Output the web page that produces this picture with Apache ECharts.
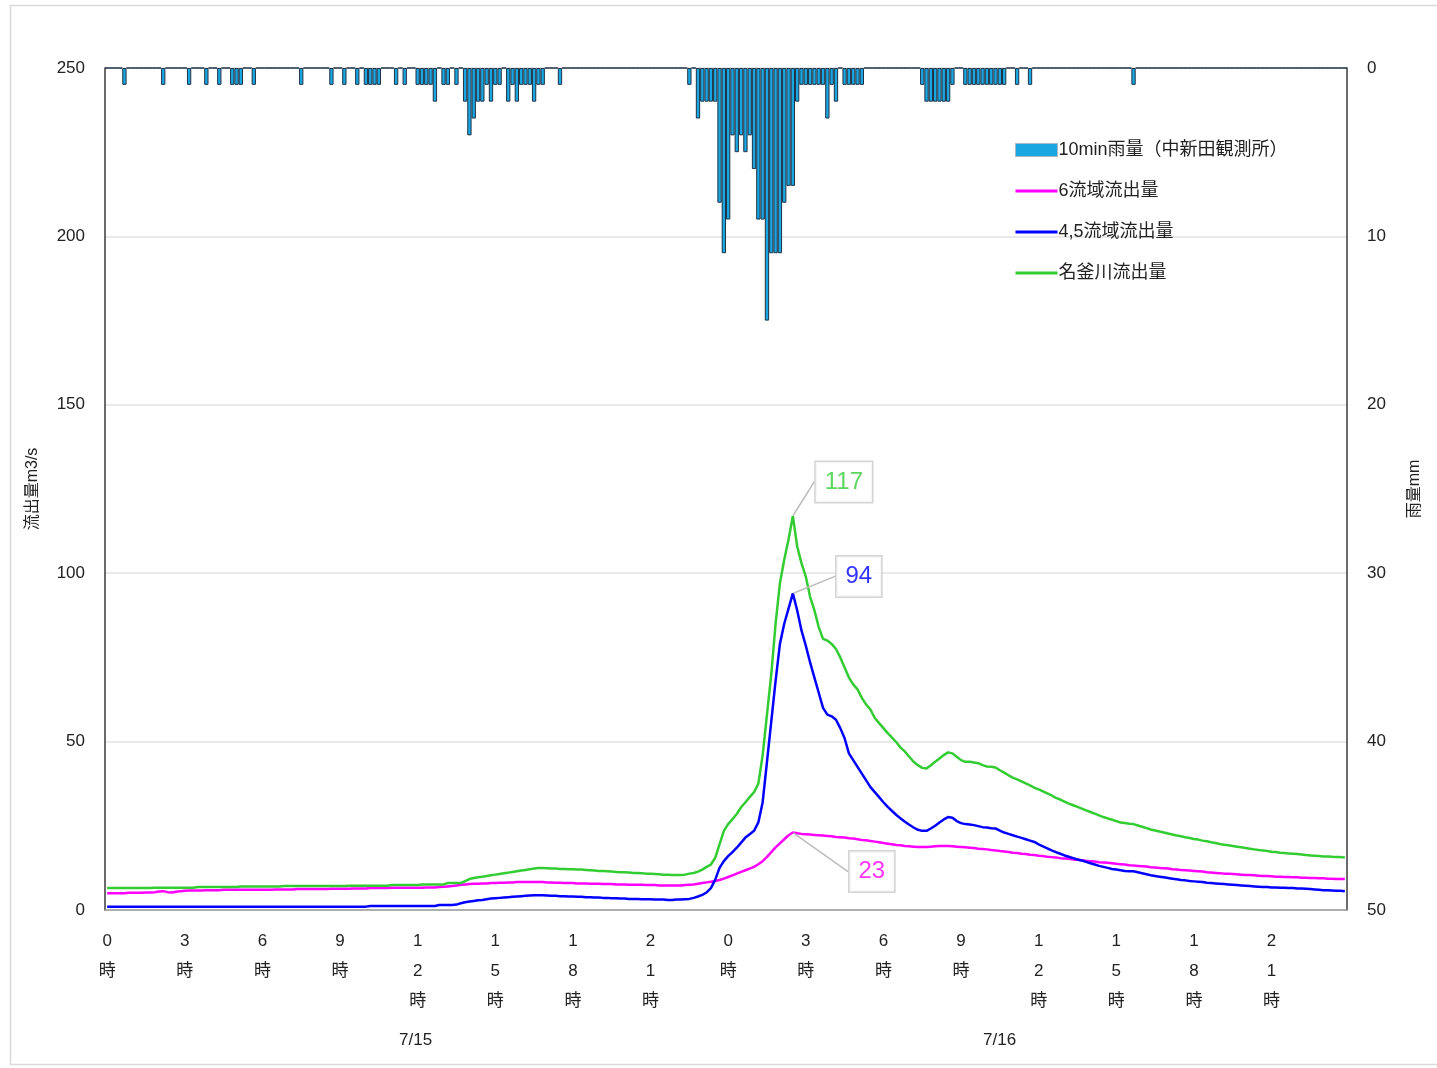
<!DOCTYPE html>
<html>
<head>
<meta charset="utf-8">
<script src="https://cdn.jsdelivr.net/npm/echarts@6/dist/echarts.min.js"></script>
<style>
  html, body { margin: 0; padding: 0; background: #fff; }
  #chart { width: 1437px; height: 1068px; }
</style>
</head>
<body>
<div id="chart"></div>
<script>
// Two days of 10-minute steps (7/15 0:00 – 7/16 23:50)
const dates = ['7/15', '7/16'];
const stepMinutes = 10;
const tickEveryHours = 3;

// 10-minute rainfall (mm), 中新田観測所 — 18 values per row = 3 hours
const rain10min = [
  0,0,0,0,1,0,0,0,0,0,0,0,0,1,0,0,0,0,
  0,1,0,0,0,1,0,0,1,0,0,1,1,1,0,0,1,0,
  0,0,0,0,0,0,0,0,0,1,0,0,0,0,0,0,1,0,
  0,1,0,0,1,0,1,1,1,1,0,0,0,1,0,1,0,0,
  1,1,1,1,2,0,1,1,0,1,0,2,4,3,2,2,1,2,
  1,1,0,2,1,2,1,1,1,2,1,1,0,0,0,1,0,0,
  0,0,0,0,0,0,0,0,0,0,0,0,0,0,0,0,0,0,
  0,0,0,0,0,0,0,0,0,1,0,3,2,2,2,2,8,11,
  9,4,5,4,5,4,6,9,9,15,11,11,11,8,7,7,2,1,
  1,1,1,1,1,3,1,2,0,1,1,1,1,1,0,0,0,0,
  0,0,0,0,0,0,0,0,0,1,2,2,2,2,2,2,1,0,
  0,1,1,1,1,1,1,1,1,1,1,0,0,1,0,0,1,0,
  0,0,0,0,0,0,0,0,0,0,0,0,0,0,0,0,0,0,
  0,0,0,0,1,0,0,0,0,0,0,0,0,0,0,0,0,0,
  0,0,0,0,0,0,0,0,0,0,0,0,0,0,0,0,0,0,
  0,0,0,0,0,0,0,0,0,0,0,0,0,0,0,0,0,0
];

// 6流域流出量 (m3/s)
const flow6 = [
  5.0,5.0,5.0,5.0,5.0,5.1,5.1,5.1,5.1,5.2,5.2,5.3,5.5,5.6,5.3,5.2,5.4,5.6,
  5.7,5.8,5.8,5.8,5.8,5.9,5.9,5.9,5.9,6.0,6.0,6.0,6.0,6.0,6.0,6.0,6.0,6.0,
  6.0,6.0,6.0,6.1,6.1,6.1,6.1,6.1,6.2,6.2,6.2,6.2,6.2,6.2,6.2,6.2,6.3,6.3,
  6.3,6.3,6.3,6.4,6.4,6.4,6.4,6.5,6.5,6.5,6.5,6.5,6.6,6.6,6.6,6.6,6.6,6.6,
  6.6,6.6,6.7,6.7,6.7,6.8,6.9,7.0,7.1,7.3,7.5,7.6,7.7,7.8,7.8,7.9,7.9,8.0,
  8.0,8.1,8.1,8.2,8.2,8.3,8.3,8.3,8.3,8.3,8.3,8.3,8.2,8.2,8.1,8.1,8.0,8.0,
  8.0,7.9,7.9,7.9,7.8,7.8,7.8,7.7,7.7,7.7,7.6,7.6,7.6,7.5,7.5,7.5,7.5,7.4,
  7.4,7.4,7.3,7.3,7.3,7.3,7.3,7.3,7.4,7.5,7.6,7.8,8.0,8.2,8.4,8.6,8.9,9.3,
  9.8,10.3,10.8,11.3,11.8,12.3,12.8,13.6,14.5,15.8,17.2,18.6,19.8,21.0,22.2,23,22.8,22.6,
  22.5,22.4,22.3,22.2,22.1,22.0,21.9,21.7,21.6,21.5,21.3,21.2,21.0,20.8,20.7,20.5,20.3,20.1,
  19.9,19.7,19.5,19.3,19.2,19.0,18.9,18.8,18.7,18.7,18.7,18.8,18.9,19.0,19.0,19.0,18.9,18.8,
  18.7,18.6,18.5,18.4,18.2,18.1,18.0,17.8,17.7,17.5,17.4,17.2,17.0,16.9,16.7,16.6,16.4,16.3,
  16.1,16.0,15.8,15.7,15.6,15.4,15.3,15.2,15.0,14.9,14.8,14.6,14.5,14.4,14.2,14.1,14.0,13.9,
  13.7,13.6,13.5,13.3,13.2,13.1,13.0,12.9,12.7,12.6,12.5,12.4,12.3,12.1,12.0,11.9,11.8,11.7,
  11.6,11.5,11.4,11.2,11.1,11.0,10.9,10.8,10.8,10.7,10.6,10.5,10.4,10.4,10.3,10.2,10.1,10.1,
  10.0,9.9,9.9,9.8,9.8,9.7,9.7,9.6,9.6,9.5,9.5,9.4,9.4,9.3,9.3,9.2,9.2,9.2
];

// 4,5流域流出量 (m3/s)
const flow45 = [
  1.0,1.0,1.0,1.0,1.0,1.0,1.0,1.0,1.0,1.0,1.0,1.0,1.0,1.0,1.0,1.0,1.0,1.0,
  1.0,1.0,1.0,1.0,1.0,1.0,1.0,1.0,1.0,1.0,1.0,1.0,1.0,1.0,1.0,1.0,1.0,1.0,
  1.0,1.0,1.0,1.0,1.0,1.0,1.0,1.0,1.0,1.0,1.0,1.0,1.0,1.0,1.0,1.0,1.0,1.0,
  1.0,1.0,1.0,1.0,1.0,1.0,1.0,1.2,1.2,1.2,1.2,1.2,1.2,1.2,1.2,1.2,1.2,1.2,
  1.2,1.2,1.2,1.2,1.2,1.5,1.5,1.5,1.5,1.6,2.0,2.3,2.5,2.7,2.9,3.0,3.2,3.4,
  3.5,3.6,3.7,3.8,3.9,4.0,4.1,4.2,4.3,4.4,4.4,4.4,4.3,4.2,4.2,4.1,4.1,4.0,
  4.0,3.9,3.9,3.8,3.8,3.7,3.7,3.6,3.6,3.5,3.5,3.4,3.4,3.3,3.3,3.3,3.2,3.2,
  3.2,3.1,3.1,3.1,3.0,3.0,3.1,3.1,3.2,3.3,3.6,4.0,4.5,5.2,6.5,9.0,12.5,14.5,
  16.0,17.2,18.5,20.0,21.5,22.5,23.5,26.0,32.0,44.0,56.0,68.0,79.0,85.0,89.5,94,89,83,
  78.5,73.5,69,64.5,60,58,57.5,56.5,54,51,46.5,44.5,42.5,40.5,38.5,36.5,35.0,33.5,
  32.0,30.6,29.4,28.2,27.2,26.2,25.3,24.5,23.8,23.5,23.5,24.2,25.0,26.0,26.9,27.6,27.4,26.4,
  25.8,25.5,25.4,25.2,24.9,24.6,24.5,24.3,24.2,23.6,23.0,22.6,22.2,21.8,21.4,21.0,20.6,20.2,
  19.5,18.9,18.3,17.7,17.2,16.7,16.2,15.8,15.4,15.0,14.7,14.3,13.9,13.5,13.1,12.8,12.5,12.2,
  12.0,11.8,11.6,11.5,11.5,11.2,10.9,10.6,10.3,10.1,9.9,9.7,9.5,9.3,9.1,8.9,8.8,8.6,
  8.5,8.4,8.3,8.1,8.0,7.9,7.8,7.7,7.6,7.5,7.4,7.3,7.2,7.1,7.0,6.9,6.8,6.8,
  6.7,6.7,6.6,6.6,6.5,6.5,6.4,6.4,6.3,6.2,6.1,6.0,5.9,5.9,5.8,5.7,5.7,5.6
];

// 名釜川流出量 (m3/s)
const flowNagama = [
  6.5,6.5,6.5,6.5,6.5,6.5,6.5,6.5,6.5,6.5,6.5,6.6,6.6,6.6,6.6,6.6,6.6,6.6,
  6.6,6.6,6.6,6.8,6.8,6.8,6.8,6.8,6.8,6.8,6.8,6.8,6.8,7.0,7.0,7.0,7.0,7.0,
  7.0,7.0,7.0,7.0,7.0,7.1,7.1,7.1,7.1,7.1,7.1,7.1,7.1,7.1,7.1,7.1,7.1,7.1,
  7.1,7.1,7.2,7.2,7.2,7.2,7.2,7.2,7.2,7.2,7.2,7.2,7.4,7.4,7.4,7.4,7.4,7.4,
  7.4,7.6,7.6,7.6,7.6,7.6,7.6,8.0,8.0,8.0,8.0,8.6,9.2,9.5,9.7,9.9,10.1,10.3,
  10.5,10.7,10.9,11.1,11.3,11.5,11.7,11.9,12.1,12.3,12.5,12.5,12.4,12.3,12.3,12.2,12.2,12.1,
  12.1,12.0,12.0,11.9,11.8,11.7,11.6,11.6,11.5,11.4,11.3,11.2,11.2,11.1,11.0,11.0,10.9,10.8,
  10.8,10.7,10.6,10.5,10.5,10.4,10.4,10.4,10.5,10.8,11.0,11.4,12.0,12.8,13.5,15.5,19.5,23.5,
  25.5,27.0,28.5,30.5,32.0,33.5,35.0,37.5,46.0,58.0,70.0,85.0,97.0,104.0,110.0,117,108,103,
  99,93,89,84,80.5,80,79,77.5,75,72,69,67,65.5,63,61,59.5,57,55.5,
  54,52.5,51.2,49.8,48.2,47,45.5,44.0,43.0,42.2,42.0,43.0,44.0,45.0,46.0,46.8,46.5,45.5,
  44.5,44.0,44.0,43.8,43.6,43.0,42.6,42.5,42.3,41.5,40.8,40.0,39.3,38.8,38.2,37.6,37.0,36.3,
  35.8,35.2,34.6,34.0,33.3,32.8,32.2,31.6,31.1,30.6,30.1,29.6,29.1,28.6,28.1,27.6,27.2,26.8,
  26.4,26.0,25.8,25.6,25.5,25.1,24.7,24.3,23.9,23.6,23.3,23.0,22.7,22.4,22.1,21.9,21.6,21.4,
  21.1,20.9,20.6,20.4,20.1,19.9,19.6,19.4,19.2,19.0,18.8,18.6,18.4,18.2,18.0,17.8,17.7,17.5,
  17.3,17.2,17.0,16.9,16.8,16.7,16.6,16.5,16.3,16.2,16.1,16.0,15.9,15.9,15.8,15.7,15.7,15.6
];

const seriesNames = {
  rain: '10min雨量（中新田観測所）',
  flow6: '6流域流出量',
  flow45: '4,5流域流出量',
  nagama: '名釜川流出量'
};
const colors = { rainFill: '#1AA6E0', rainEdge: '#1f3347', flow6: '#FF00FF', flow45: '#0000FF', nagama: '#33CC33' };

// time categories, one per 10 minutes
const categories = [];
dates.forEach(d => {
  for (let m = 0; m < 24 * 60; m += stepMinutes) {
    const h = Math.floor(m / 60), mm = m % 60;
    categories.push(d + ' ' + h + ':' + (mm < 10 ? '0' : '') + mm);
  }
});
const stepsPerTick = tickEveryHours * 60 / stepMinutes;

function hourLabel(value) {
  const hour = value.split(' ')[1].split(':')[0];
  return hour.split('').join('\n') + '\n時';
}

function peakIndex(arr) {
  let k = 0;
  arr.forEach((v, i) => { if (v > arr[k]) k = i; });
  return k;
}

const FONT = '"Liberation Sans", "Noto Sans CJK JP", sans-serif';
const LINE_ICON = 'path://M0,0H42V3H0Z';

function peakLabelSeries(arr, color, dx, dy) {
  const k = peakIndex(arr);
  return {
    type: 'scatter',
    data: [[k, arr[k]]],
    symbolSize: 1,
    itemStyle: { color: 'rgba(0,0,0,0)' },
    silent: true,
    z: 10,
    label: {
      show: true,
      position: 'inside',
      formatter: p => String(p.value[1]),
      color: color,
      fontSize: 24,
      fontFamily: FONT,
      backgroundColor: '#fff',
      borderColor: '#c9c9c9',
      borderWidth: 1.5,
      padding: [9, 9, 7, 9]
    },
    labelLayout: { dx: dx, dy: dy },
    labelLine: { show: true, lineStyle: { color: '#bdbdbd', width: 1.5 } }
  };
}

const chart = echarts.init(document.getElementById('chart'), null, { renderer: 'canvas' });

chart.setOption({
  backgroundColor: '#fff',
  animation: false,
  textStyle: { fontFamily: FONT },
  grid: { left: 105, right: 90, top: 68, bottom: 158 },
  legend: {
    data: [
      { name: seriesNames.rain, icon: 'rect', itemStyle: { borderColor: '#a8b8c4', borderWidth: 1 } },
      { name: seriesNames.flow6, icon: LINE_ICON },
      { name: seriesNames.flow45, icon: LINE_ICON },
      { name: seriesNames.nagama, icon: LINE_ICON }
    ],
    orient: 'vertical',
    left: 1010,
    top: 136,
    itemWidth: 42,
    itemHeight: 13,
    itemGap: 23,
    textStyle: { fontSize: 18, color: '#222', fontFamily: FONT, padding: [0, 0, 0, -4] }
  },
  xAxis: {
    type: 'category',
    data: categories,
    boundaryGap: true,
    axisLine: { lineStyle: { color: '#9a9a9a', width: 1.5 } },
    axisTick: { show: false },
    axisLabel: {
      interval: stepsPerTick - 1,
      formatter: hourLabel,
      fontSize: 17,
      color: '#222',
      lineHeight: 30,
      margin: 16,
      fontFamily: FONT
    },
    splitLine: { show: false }
  },
  yAxis: [
    {
      type: 'value',
      min: 0, max: 250, interval: 50,
      name: '流出量m3/s',
      nameLocation: 'middle',
      nameGap: 64,
      nameTextStyle: { fontSize: 16, color: '#222', fontFamily: FONT },
      axisLine: { show: true, lineStyle: { color: '#3a3a3a', width: 1.5 } },
      axisTick: { show: false },
      axisLabel: { fontSize: 17, color: '#222', margin: 20, fontFamily: FONT },
      splitLine: { lineStyle: { color: '#e2e2e2', width: 1.5 } }
    },
    {
      type: 'value',
      min: 0, max: 50, interval: 10,
      inverse: true,
      name: '雨量mm',
      nameLocation: 'middle',
      nameGap: 60,
      nameRotate: 90,
      nameTextStyle: { fontSize: 16, color: '#222', fontFamily: FONT },
      axisLine: { show: true, lineStyle: { color: '#3a3a3a', width: 1.5 } },
      axisTick: { show: false },
      axisLabel: { fontSize: 17, color: '#222', margin: 20, fontFamily: FONT },
      splitLine: { show: false }
    }
  ],
  series: [
    {
      name: seriesNames.rain,
      type: 'bar',
      yAxisIndex: 1,
      data: rain10min,
      barCategoryGap: '0%',
      itemStyle: { color: colors.rainFill, borderColor: colors.rainEdge, borderWidth: 1 },
      z: 2
    },
    {
      name: seriesNames.flow6,
      type: 'line',
      data: flow6,
      symbol: 'none',
      lineStyle: { color: colors.flow6, width: 2.5 },
      itemStyle: { color: colors.flow6 },
      z: 3
    },
    {
      name: seriesNames.flow45,
      type: 'line',
      data: flow45,
      symbol: 'none',
      lineStyle: { color: colors.flow45, width: 2.5 },
      itemStyle: { color: colors.flow45 },
      z: 3
    },
    {
      name: seriesNames.nagama,
      type: 'line',
      data: flowNagama,
      symbol: 'none',
      lineStyle: { color: colors.nagama, width: 2.5 },
      itemStyle: { color: colors.nagama },
      z: 3
    },
    peakLabelSeries(flowNagama, colors.nagama, 51, -34),
    peakLabelSeries(flow45, colors.flow45, 66, -17),
    peakLabelSeries(flow6, colors.flow6, 79, 39)
  ],
  graphic: [
    {
      type: 'rect',
      shape: { x: 10.5, y: 5.5, width: 1440, height: 1059 },
      style: { fill: 'none', stroke: '#dadada', lineWidth: 1.5 },
      silent: true
    },
    {
      type: 'text', left: 399, top: 1032,
      style: { text: dates[0], fontSize: 17, fill: '#222', fontFamily: FONT }
    },
    {
      type: 'text', left: 983, top: 1032,
      style: { text: dates[1], fontSize: 17, fill: '#222', fontFamily: FONT }
    }
  ]
});
</script>
</body>
</html>
